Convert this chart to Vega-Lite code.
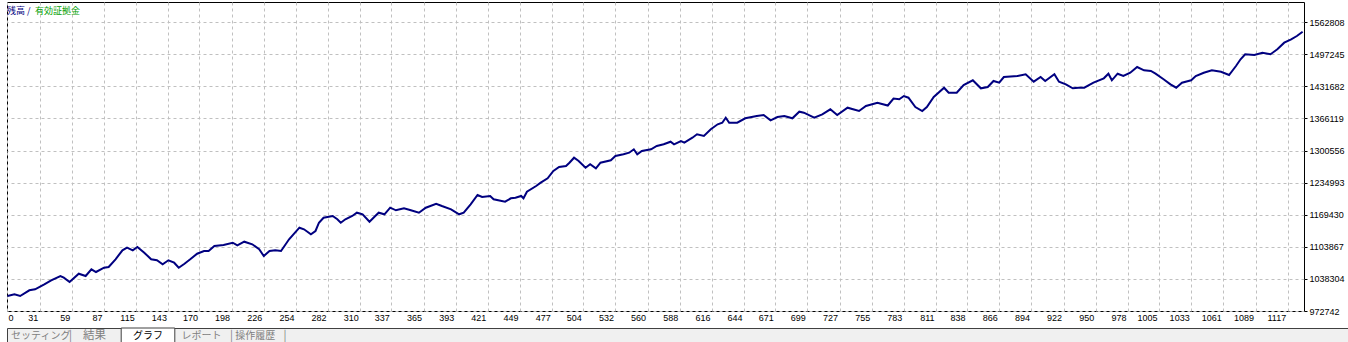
{
  "$schema": "https://vega.github.io/schema/vega-lite/v6.json",
  "padding": {"left": 3, "top": 1, "right": 0, "bottom": 0},
  "background": "#ffffff",
  "spacing": 4,
  "vconcat": [
    {
      "width": 1297,
      "height": 309,
      "view": {"stroke": "#000000", "strokeWidth": 1, "fill": "#ffffff"},
      "data": {"values": [
        {"trade":3,"balance":1003380},{"trade":9,"balance":1006852},{"trade":14,"balance":1003380},{"trade":22,"balance":1015022},{"trade":27,"balance":1017064},{"trade":35,"balance":1027277},{"trade":41,"balance":1035447},{"trade":49,"balance":1044230},{"trade":52,"balance":1040757},{"trade":57,"balance":1031975},{"trade":65,"balance":1048927},{"trade":71,"balance":1044230},{"trade":76,"balance":1057914},{"trade":80,"balance":1052400},{"trade":87,"balance":1061182},{"trade":91,"balance":1062612},{"trade":97,"balance":1078339},{"trade":103,"balance":1096722},{"trade":107,"balance":1102032},{"trade":112,"balance":1096722},{"trade":116,"balance":1103462},{"trade":122,"balance":1091820},{"trade":128,"balance":1078339},{"trade":133,"balance":1076297},{"trade":138,"balance":1068127},{"trade":143,"balance":1076297},{"trade":148,"balance":1071395},{"trade":152,"balance":1061182},{"trade":157,"balance":1069352},{"trade":162,"balance":1078339},{"trade":168,"balance":1089777},{"trade":174,"balance":1095292},{"trade":178,"balance":1095292},{"trade":183,"balance":1105505},{"trade":191,"balance":1107547},{"trade":199,"balance":1112245},{"trade":203,"balance":1106934},{"trade":209,"balance":1114287},{"trade":216,"balance":1108977},{"trade":222,"balance":1098764},{"trade":226,"balance":1085080},{"trade":231,"balance":1095292},{"trade":236,"balance":1096722},{"trade":241,"balance":1095292},{"trade":248,"balance":1119189},{"trade":257,"balance":1142882},{"trade":261,"balance":1139614},{"trade":267,"balance":1129402},{"trade":271,"balance":1136142},{"trade":274,"balance":1153095},{"trade":278,"balance":1163307},{"trade":286,"balance":1166780},{"trade":290,"balance":1160039},{"trade":293,"balance":1153095},{"trade":297,"balance":1160039},{"trade":303,"balance":1166780},{"trade":307,"balance":1173520},{"trade":312,"balance":1170252},{"trade":318,"balance":1155137},{"trade":323,"balance":1166780},{"trade":326,"balance":1173520},{"trade":331,"balance":1170252},{"trade":336,"balance":1183732},{"trade":341,"balance":1178422},{"trade":348,"balance":1182507},{"trade":354,"balance":1178422},{"trade":361,"balance":1173520},{"trade":367,"balance":1183732},{"trade":376,"balance":1191902},{"trade":381,"balance":1187205},{"trade":389,"balance":1180464},{"trade":396,"balance":1170252},{"trade":400,"balance":1173520},{"trade":406,"balance":1190677},{"trade":412,"balance":1209672},{"trade":416,"balance":1205587},{"trade":423,"balance":1207630},{"trade":426,"balance":1200889},{"trade":436,"balance":1195987},{"trade":441,"balance":1202932},{"trade":445,"balance":1204157},{"trade":450,"balance":1207630},{"trade":452,"balance":1202932},{"trade":455,"balance":1216412},{"trade":463,"balance":1228055},{"trade":467,"balance":1234795},{"trade":473,"balance":1243782},{"trade":478,"balance":1258692},{"trade":483,"balance":1266862},{"trade":489,"balance":1268905},{"trade":492,"balance":1275645},{"trade":496,"balance":1285857},{"trade":500,"balance":1279117},{"trade":506,"balance":1265432},{"trade":510,"balance":1272377},{"trade":515,"balance":1264207},{"trade":519,"balance":1275645},{"trade":528,"balance":1280547},{"trade":532,"balance":1289330},{"trade":539,"balance":1292802},{"trade":544,"balance":1296070},{"trade":548,"balance":1303014},{"trade":551,"balance":1292802},{"trade":555,"balance":1299542},{"trade":563,"balance":1303014},{"trade":568,"balance":1309755},{"trade":574,"balance":1313227},{"trade":580,"balance":1318537},{"trade":583,"balance":1313227},{"trade":589,"balance":1319967},{"trade":592,"balance":1316495},{"trade":599,"balance":1326707},{"trade":603,"balance":1333652},{"trade":609,"balance":1330180},{"trade":615,"balance":1343864},{"trade":621,"balance":1354077},{"trade":625,"balance":1357345},{"trade":628,"balance":1367557},{"trade":631,"balance":1357345},{"trade":638,"balance":1357345},{"trade":645,"balance":1366332},{"trade":655,"balance":1371030},{"trade":661,"balance":1373072},{"trade":667,"balance":1362247},{"trade":673,"balance":1368987},{"trade":679,"balance":1371030},{"trade":686,"balance":1366332},{"trade":692,"balance":1379812},{"trade":696,"balance":1377770},{"trade":705,"balance":1367557},{"trade":712,"balance":1374502},{"trade":719,"balance":1384714},{"trade":725,"balance":1373072},{"trade":734,"balance":1387982},{"trade":744,"balance":1381242},{"trade":750,"balance":1391455},{"trade":760,"balance":1398195},{"trade":769,"balance":1392476},{"trade":774,"balance":1406773},{"trade":779,"balance":1405139},{"trade":783,"balance":1411880},{"trade":787,"balance":1408407},{"trade":793,"balance":1389412},{"trade":799,"balance":1381242},{"trade":803,"balance":1389412},{"trade":809,"balance":1409837},{"trade":818,"balance":1428832},{"trade":822,"balance":1418620},{"trade":829,"balance":1418620},{"trade":835,"balance":1434347},{"trade":843,"balance":1443947},{"trade":850,"balance":1427607},{"trade":856,"balance":1430262},{"trade":861,"balance":1442517},{"trade":866,"balance":1439045},{"trade":870,"balance":1450687},{"trade":882,"balance":1452730},{"trade":889,"balance":1456202},{"trade":896,"balance":1441087},{"trade":902,"balance":1450687},{"trade":906,"balance":1442517},{"trade":914,"balance":1456202},{"trade":918,"balance":1441087},{"trade":924,"balance":1435777},{"trade":930,"balance":1427607},{"trade":935,"balance":1428832},{"trade":940,"balance":1428832},{"trade":948,"balance":1439045},{"trade":957,"balance":1448032},{"trade":961,"balance":1457427},{"trade":964,"balance":1443947},{"trade":969,"balance":1457427},{"trade":974,"balance":1452730},{"trade":980,"balance":1459470},{"trade":986,"balance":1471112},{"trade":992,"balance":1464372},{"trade":998,"balance":1462942},{"trade":1002,"balance":1457427},{"trade":1009,"balance":1445989},{"trade":1015,"balance":1435777},{"trade":1020,"balance":1428832},{"trade":1025,"balance":1439045},{"trade":1033,"balance":1443947},{"trade":1037,"balance":1452730},{"trade":1044,"balance":1459470},{"trade":1051,"balance":1464372},{"trade":1059,"balance":1461512},{"trade":1066,"balance":1454772},{"trade":1072,"balance":1473155},{"trade":1076,"balance":1486839},{"trade":1080,"balance":1497052},{"trade":1088,"balance":1495622},{"trade":1095,"balance":1500320},{"trade":1102,"balance":1497052},{"trade":1108,"balance":1507264},{"trade":1114,"balance":1520745},{"trade":1120,"balance":1527689},{"trade":1125,"balance":1534430},{"trade":1130,"balance":1543212}
      ]},
      "mark": {"type": "line", "strokeWidth": 2, "interpolate": "linear"},
      "encoding": {
        "x": {
          "field": "trade", "type": "quantitative",
          "scale": {"domain": [2.55, 1131.2], "nice": false, "zero": false},
          "axis": {
            "title": null,
            "values": [2.55, 31, 59, 87, 115, 143, 170, 198, 226, 254, 282, 310, 337, 365, 393, 421, 449, 477, 504, 532, 560, 588, 616, 644, 671, 699, 727, 755, 783, 811, 838, 866, 894, 922, 950, 978, 1005, 1033, 1061, 1089, 1117],
            "format": "d",
            "labelExpr": "datum.value < 10 ? '0' : datum.label",
            "grid": true, "gridColor": "#c0c0c0", "gridDash": [3, 3], "gridWidth": 1,
            "ticks": false, "tickSize": 0, "domain": false,
            "labelFont": "Liberation Sans", "labelFontSize": 9, "labelColor": "#000000",
            "labelPadding": 2, "labelBaseline": "top",
            "labelAlign": {"condition": {"test": "datum.value < 10", "value": "left"}, "value": "right"},
            "labelOffset": {"condition": {"test": "datum.value < 10", "value": 1}, "value": -2},
            "labelFlush": false, "labelOverlap": false, "labelBound": false
          }
        },
        "y": {
          "field": "balance", "type": "quantitative",
          "scale": {"domain": [972742, 1603875], "nice": false, "zero": false},
          "axis": {
            "orient": "right", "title": null,
            "values": [972742, 1038304, 1103867, 1169430, 1234993, 1300556, 1366119, 1431682, 1497245, 1562808],
            "format": "d",
            "grid": true, "gridColor": "#c0c0c0", "gridDash": [3, 3], "gridWidth": 1,
            "ticks": true, "tickSize": 3, "tickColor": "#000000", "domain": false,
            "labelFont": "Liberation Sans", "labelFontSize": 9, "labelColor": "#000000",
            "labelPadding": 2, "labelBaseline": "middle",
            "labelFlush": false, "labelOverlap": false, "labelBound": false
          }
        },
        "color": {
          "datum": "残高",
          "scale": {"domain": ["残高", "有効証拠金"], "range": ["#000080", "#00a000"]},
          "legend": {
            "orient": "top-left", "direction": "horizontal", "title": null,
            "offset": 4, "padding": 0,
            "symbolType": "circle", "symbolSize": 0.01, "symbolOpacity": 0, "symbolStrokeWidth": 0,
            "labelOffset": -13, "columnPadding": 4,
            "labelFont": "Noto Sans CJK JP", "labelFontSize": 9,
            "labelExpr": "datum.label === '残高' ? '残高 /' : datum.label",
            "encode": {
              "labels": {"update": {"fill": {"scale": "color", "field": "value"}}},
              "symbols": {"update": {"size": {"value": 0.01}, "opacity": {"value": 0}}}
            }
          }
        }
      }
    },
    {
      "width": 1345,
      "height": 16,
      "view": {"fill": "#f0f0f0", "stroke": "#404040", "strokeWidth": 1},
      "data": {"values": [{"tab": "セッティング"}, {"tab": "結果"}, {"tab": "グラフ"}, {"tab": "レポート"}, {"tab": "操作履歴"}]},
      "encoding": {
        "x": {
          "field": "tab", "type": "nominal", "sort": null,
          "scale": {"domain": ["セッティング", "結果", "グラフ", "レポート", "操作履歴"], "range": [7, 275], "paddingInner": 0, "paddingOuter": 0},
          "axis": null
        }
      },
      "layer": [
        {
          "transform": [{"filter": "datum.tab === 'グラフ'"}],
          "mark": {"type": "bar", "fill": "#ffffff", "stroke": "#404040", "strokeWidth": 1}
        },
        {
          "mark": {"type": "text", "font": "Noto Sans CJK JP", "baseline": "middle"},
          "encoding": {
            "text": {"field": "tab"},
            "size": {"condition": {"test": "datum.tab === '結果'", "value": 11.5}, "value": 10},
            "color": {"condition": {"test": "datum.tab === 'グラフ'", "value": "#000000"}, "value": "#808080"}
          }
        },
        {
          "transform": [{"filter": "datum.tab === 'セッティング' || datum.tab === 'レポート' || datum.tab === '操作履歴'"}],
          "mark": {"type": "text", "text": "|", "font": "Noto Sans CJK JP", "fontSize": 11, "baseline": "middle", "color": "#808080", "dx": 3},
          "encoding": {"x": {"field": "tab", "type": "nominal", "sort": null, "bandPosition": 1}}
        }
      ]
    }
  ]
}
